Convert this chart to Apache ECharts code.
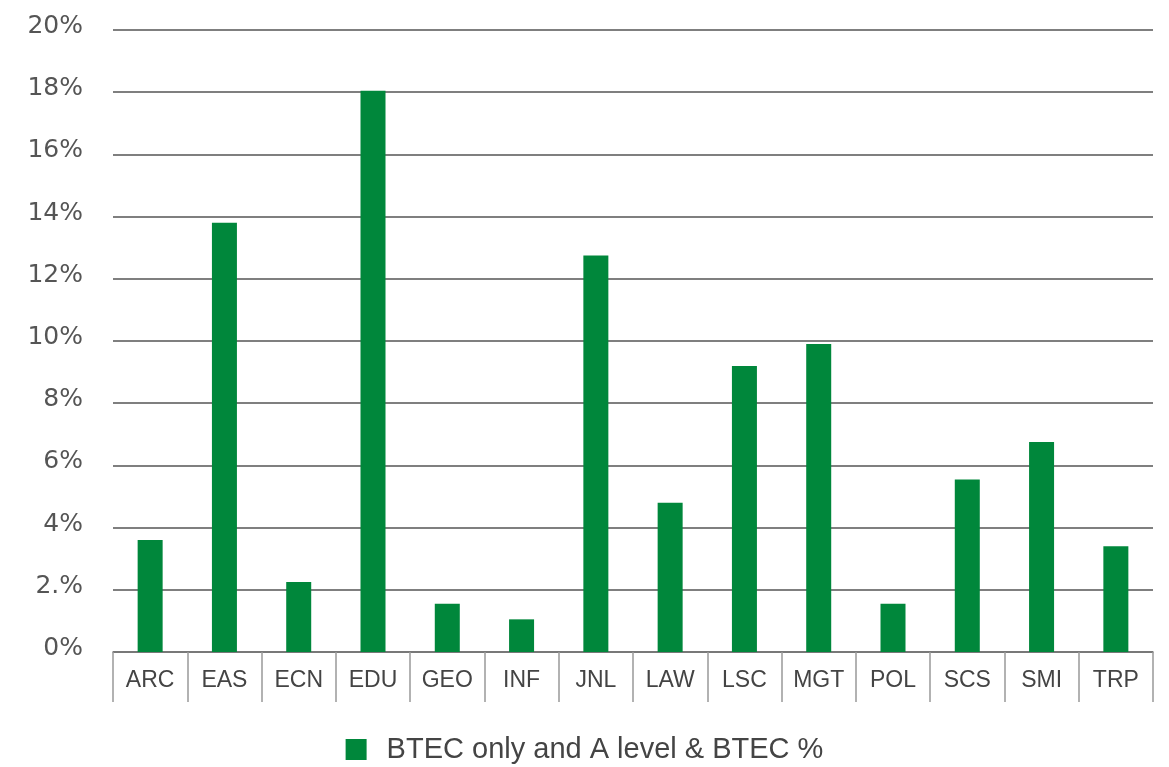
<!DOCTYPE html>
<html>
<head>
<meta charset="utf-8">
<script src="https://cdn.jsdelivr.net/npm/echarts@6/dist/echarts.min.js"></script>
<style>
  html, body { margin: 0; padding: 0; background: #fff; }
  #echart { width: 1169px; height: 767px; }
</style>
</head>
<body>
<div id="echart"></div>
<script>
// data
var categories = ['ARC', 'EAS', 'ECN', 'EDU', 'GEO', 'INF', 'JNL', 'LAW', 'LSC', 'MGT', 'POL', 'SCS', 'SMI', 'TRP'];
var btecValues = [3.6, 13.8, 2.25, 18.05, 1.55, 1.05, 12.75, 4.8, 9.2, 9.9, 1.55, 5.55, 6.75, 3.4];
var yTickLabels = ['0%', '2.%', '4%', '6%', '8%', '10%', '12%', '14%', '16%', '18%', '20%'];
var seriesName = 'BTEC only and A level & BTEC %';

var eChart = echarts.init(document.getElementById('echart'));

var eChartOption = {
	animation: false,
	grid: {
		left: 113,
		right: 16,
		top: 30,
		bottom: 115,
		containLabel: false
	},
	legend: {
		top: 730,
		left: 'center',
		itemWidth: 21,
		itemHeight: 21,
		icon: 'rect',
		textStyle: {
			fontFamily: 'Liberation Sans',
			fontSize: 29,
			color: '#444',
			padding: [0, 0, 0, 15]
		},
		data: [seriesName]
	},
	xAxis: {
		type: 'category',
		data: categories,
		boundaryGap: true,
		axisLine: { show: true, lineStyle: { color: '#777', width: 1.5 } },
		axisTick: { show: true, length: 50, alignWithLabel: false, lineStyle: { color: '#999', width: 1.5 } },
		axisLabel: {
			margin: 17,
			fontFamily: 'Liberation Sans',
			fontSize: 23,
			color: '#444'
		}
	},
	yAxis: {
		type: 'value',
		min: 0,
		max: 20,
		interval: 2,
		axisLine: { show: false },
		axisTick: { show: false },
		splitLine: { show: true, lineStyle: { color: '#555', width: 1.5 } },
		axisLabel: {
			margin: 30,
			fontFamily: 'DejaVu Sans',
			fontSize: 25,
			color: '#555',
			verticalAlign: 'bottom',
			padding: [0, 0, -9, 0],
			formatter: function(val) {
				return yTickLabels[Math.round(val / 2)];
			}
		}
	},
	series: [
		{
			name: seriesName,
			type: 'bar',
			data: btecValues,
			barWidth: 25,
			itemStyle: { color: '#00873b' }
		}
	]
};

eChart.setOption(eChartOption);
</script>
</body>
</html>
